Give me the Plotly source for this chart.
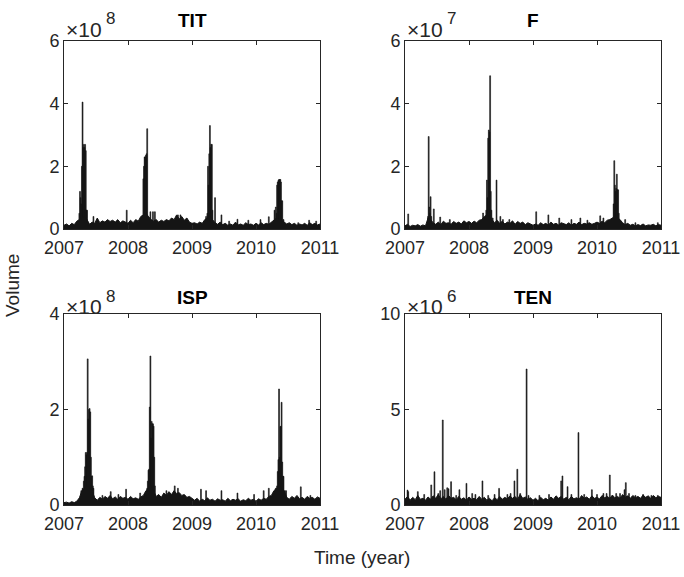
import numpy as np
import plotly.graph_objects as go

# ---------------- data (values in units of the panel exponent) ----------------
# Regular sampling of the slowly varying "background" volume (every 0.04 year)
tit_base = [.12, .16, .10, .18, .14, .25, .30, .35, .40, .30,
            .15, .22, .18, .35, .20, .26, .22, .30, .24, .28,
            .22, .30, .20, .26, .22, .18, .28, .20, .30, .25,
            .40, .45, .50, .40, .30, .25, .30, .22, .28, .24,
            .30, .26, .35, .30, .45, .32, .40, .28, .35, .22,
            .18, .20, .16, .22, .18, .30, .35, .40, .30, .20,
            .15, .22, .14, .18, .12, .16, .12, .22, .13, .16,
            .12, .20, .14, .16, .12, .18, .13, .20, .14, .18,
            .15, .22, .30, .35, .30, .28, .22, .16, .20, .14,
            .18, .12, .16, .13, .18, .12, .20, .14, .18, .13, .16]
tit_spike_t = [2007.24, 2007.25, 2007.26, 2007.27, 2007.28, 2007.29, 2007.30, 2007.31,
               2007.32, 2007.33, 2007.34, 2007.35, 2007.36, 2007.46, 2007.98,
               2008.23, 2008.24, 2008.25, 2008.26, 2008.27, 2008.28, 2008.29, 2008.30,
               2008.31, 2008.35, 2008.39, 2008.42, 2008.78, 2008.82,
               2009.22, 2009.24, 2009.25, 2009.26, 2009.27, 2009.28, 2009.29, 2009.30,
               2009.31, 2009.32, 2009.36, 2009.46, 2009.58, 2009.71, 2009.88,
               2010.07, 2010.20, 2010.29, 2010.31, 2010.32, 2010.33, 2010.34, 2010.35,
               2010.36, 2010.37, 2010.38, 2010.39, 2010.40, 2010.41, 2010.43, 2010.66,
               2010.83, 2010.94]
tit_spike_v = [0.5, 1.2, 1.0, 0.8, 2.0, 4.05, 2.6, 2.7,
               2.6, 2.7, 2.5, 0.6, 0.6, 0.4, 0.6,
               0.4, 1.6, 2.0, 2.3, 2.3, 2.35, 2.4, 3.2,
               0.4, 0.55, 0.55, 0.55, 0.45, 0.45,
               0.4, 0.5, 2.0, 1.4, 2.4, 3.3, 2.6, 2.7,
               2.7, 0.6, 1.0, 0.45, 0.25, 0.31, 0.28,
               0.3, 0.39, 0.6, 0.7, 0.5, 1.4, 1.5, 1.55,
               1.58, 1.58, 1.58, 1.5, 0.9, 0.9, 0.3, 0.2,
               0.28, 0.25]

f_base = [.10, .15, .08, .12, .10, .14, .09, .13, .10, .35,
          .30, .20, .15, .22, .14, .25, .18, .20, .15, .24,
          .18, .22, .16, .26, .20, .24, .18, .25, .20, .28,
          .30, .40, .45, .40, .30, .20, .28, .18, .25, .16,
          .22, .18, .26, .15, .24, .18, .22, .14, .20, .16,
          .12, .16, .12, .20, .14, .18, .12, .22, .15, .18,
          .13, .20, .16, .14, .20, .12, .18, .15, .22, .14,
          .18, .16, .20, .15, .18, .22, .18, .25, .20, .28,
          .30, .35, .40, .35, .30, .20, .14, .18, .12, .15,
          .10, .14, .11, .16, .10, .13, .12, .15, .10, .14, .12]
f_spike_t = [2007.05, 2007.36, 2007.37, 2007.38, 2007.39, 2007.40, 2007.41, 2007.45,
             2007.55, 2007.70, 2008.22, 2008.27, 2008.28, 2008.29, 2008.30, 2008.31,
             2008.32, 2008.33, 2008.34, 2008.35, 2008.37, 2008.43, 2008.49, 2008.53,
             2008.63, 2009.05, 2009.24, 2009.41, 2009.60, 2009.74, 2009.85, 2010.05,
             2010.10, 2010.24, 2010.26, 2010.27, 2010.28, 2010.29, 2010.30, 2010.31,
             2010.32, 2010.33, 2010.34, 2010.44, 2010.60, 2010.95]
f_spike_v = [0.48, 0.4, 2.95, 0.7, 0.5, 1.03, 0.4, 0.64,
             0.38, 0.3, 0.51, 0.6, 1.56, 1.0, 2.9, 3.16,
             3.1, 4.89, 1.2, 0.6, 0.35, 1.56, 0.4, 0.3,
             0.3, 0.55, 0.45, 0.35, 0.3, 0.35, 0.28, 0.42,
             0.35, 0.3, 0.8, 2.18, 1.4, 1.2, 1.3, 1.75,
             1.25, 1.25, 0.5, 0.3, 0.2, 0.2]

isp_base = [.05, .06, .04, .07, .05, .08, .15, .30, .35, .40,
            .35, .30, .15, .10, .16, .12, .18, .14, .20, .13,
            .17, .12, .18, .14, .16, .12, .18, .13, .15, .12,
            .17, .20, .30, .35, .40, .30, .18, .22, .16, .25,
            .20, .28, .22, .30, .24, .26, .20, .22, .16, .18,
            .14, .10, .14, .08, .12, .09, .15, .10, .12, .08,
            .13, .10, .11, .08, .14, .09, .12, .10, .13, .08,
            .11, .09, .14, .10, .12, .08, .13, .10, .14, .12,
            .18, .20, .30, .35, .40, .35, .30, .16, .12, .18,
            .14, .20, .13, .16, .12, .18, .14, .16, .12, .17, .14]
isp_spike_t = [2007.27, 2007.29, 2007.31, 2007.32, 2007.33, 2007.34, 2007.35, 2007.36,
               2007.37, 2007.38, 2007.39, 2007.40, 2007.41, 2007.42, 2007.43, 2007.44,
               2007.45, 2007.46, 2007.60, 2007.73, 2007.85, 2007.97, 2008.19,
               2008.30, 2008.31, 2008.32, 2008.33, 2008.34, 2008.35, 2008.36, 2008.37,
               2008.38, 2008.39, 2008.40, 2008.41, 2008.42, 2008.60, 2008.73, 2008.78,
               2009.14, 2009.22, 2009.46, 2009.71, 2009.97, 2010.12, 2010.20,
               2010.31, 2010.33, 2010.34, 2010.35, 2010.36, 2010.37, 2010.38, 2010.39,
               2010.40, 2010.41, 2010.42, 2010.43, 2010.45, 2010.47, 2010.70, 2010.85]
isp_spike_v = [0.3, 0.35, 0.5, 0.6, 0.8, 1.1, 1.05, 1.1,
               3.06, 1.8, 2.0, 2.02, 1.95, 1.0, 0.6, 0.61,
               0.4, 0.35, 0.2, 0.28, 0.22, 0.33, 0.25,
               0.35, 0.5, 0.73, 0.75, 2.05, 3.12, 1.4, 1.75,
               1.7, 1.7, 1.65, 1.0, 0.4, 0.3, 0.4, 0.35,
               0.33, 0.3, 0.3, 0.25, 0.22, 0.3, 0.35,
               0.35, 0.4, 0.7, 0.95, 2.43, 1.0, 1.64, 1.65,
               2.15, 0.9, 0.6, 0.6, 0.3, 0.3, 0.38, 0.2]

ten_base = [.30, .45, .25, .40, .28, .50, .30, .35, .25, .42,
            .30, .48, .35, .55, .32, .45, .30, .50, .35, .40,
            .28, .45, .30, .38, .25, .42, .30, .35, .28, .45,
            .30, .40, .25, .35, .22, .38, .28, .45, .30, .40,
            .32, .48, .35, .45, .30, .55, .35, .42, .30, .38,
            .25, .35, .22, .40, .28, .35, .25, .42, .30, .48,
            .35, .45, .30, .40, .28, .45, .32, .38, .30, .50,
            .35, .42, .30, .48, .35, .40, .32, .50, .38, .45,
            .35, .52, .38, .45, .35, .55, .40, .48, .35, .50,
            .38, .45, .35, .52, .40, .48, .35, .50, .38, .45, .40]
ten_spike_t = [2007.04, 2007.05, 2007.20, 2007.30, 2007.41, 2007.46, 2007.52, 2007.55,
               2007.59, 2007.62, 2007.66, 2007.68, 2007.72, 2007.80, 2007.85, 2007.96,
               2008.05, 2008.10, 2008.21, 2008.30, 2008.40, 2008.47, 2008.60, 2008.65,
               2008.71, 2008.755, 2008.80, 2008.90, 2008.93, 2009.10, 2009.25, 2009.44,
               2009.46, 2009.54, 2009.60, 2009.71, 2009.80, 2009.92, 2010.00, 2010.10,
               2010.15, 2010.20, 2010.30, 2010.36, 2010.43, 2010.45, 2010.50, 2010.60,
               2010.72, 2010.85, 2010.95]
ten_spike_v = [0.78, 0.7, 0.7, 0.55, 1.05, 1.74, 0.6, 0.75,
               4.45, 0.8, 0.9, 0.85, 1.22, 0.5, 0.8, 1.13,
               0.6, 0.55, 1.26, 0.5, 0.55, 0.87, 0.55, 0.6,
               1.26, 1.87, 0.6, 7.12, 0.5, 0.5, 0.55, 1.26,
               1.52, 0.96, 0.55, 3.79, 0.55, 0.8, 0.55, 0.6,
               0.6, 1.57, 0.6, 0.6, 0.8, 1.17, 0.6, 0.5,
               0.55, 0.5, 0.5]

titles = ["TIT", "F", "ISP", "TEN"]
exponents = ["8", "7", "8", "6"]
y_max = [6, 6, 4, 10]
y_ticks = [[0, 2, 4, 6], [0, 2, 4, 6], [0, 2, 4], [0, 5, 10]]
year_ticks = [2007, 2008, 2009, 2010, 2011]

bases = [tit_base, f_base, isp_base, ten_base]
spike_ts = [tit_spike_t, f_spike_t, isp_spike_t, ten_spike_t]
spike_vs = [tit_spike_v, f_spike_v, isp_spike_v, ten_spike_v]
for b in bases:
    assert len(b) == 101, len(b)
times = np.round(2007 + 0.04 * np.arange(101), 2)

# ---------------- layout geometry ----------------
W, H = 684, 577
# (left, right, top, bottom) in px
boxes = [(64, 320, 41, 229), (405, 661, 41, 229), (64, 320, 314, 505), (405, 661, 314, 505)]
# vertical offsets above the box top for: title, "x10", exponent digit
row_off = [(21, 12, 22), (21, 12, 22), (17, 8, 18), (17, 8, 18)]

FONT = "Liberation Sans, Arial, Helvetica, sans-serif"
INK = "#262626"
DATA = "#151515"

fig = go.Figure()
layout = dict(template="none", width=W, height=H, margin=dict(l=0, r=0, t=0, b=0, pad=0),
              paper_bgcolor="white", plot_bgcolor="white", showlegend=False,
              barmode="overlay", font=dict(family=FONT, color=INK, size=18))
annotations = []


def px_x(p):
    return p / W


def px_y(p):
    return 1 - p / H


for i in range(4):
    sfx = "" if i == 0 else str(i + 1)
    xa, ya = "x" + sfx, "y" + sfx
    l, r, t, b = boxes[i]
    fig.add_trace(go.Scatter(x=times, y=bases[i], xaxis=xa, yaxis=ya, mode="lines",
                             line=dict(color=DATA, width=1), fill="tozeroy",
                             fillcolor=DATA, hoverinfo="skip"))
    fig.add_trace(go.Bar(x=spike_ts[i], y=spike_vs[i], xaxis=xa, yaxis=ya,
                         width=0.014, marker=dict(color=DATA, line=dict(color=DATA, width=0.6))))
    axis_common = dict(showgrid=False, zeroline=False, showline=True, linecolor=INK,
                       linewidth=1, mirror="ticks", ticks="inside", ticklen=4,
                       tickcolor=INK, automargin=False,
                       tickfont=dict(family=FONT, size=18, color=INK))
    layout["xaxis" + sfx] = dict(axis_common, domain=[px_x(l), px_x(r)], anchor=ya,
                                 range=[2007, 2011], tickvals=year_ticks,
                                 ticktext=[str(v) for v in year_ticks],
                                 ticklabelstandoff=2)
    layout["yaxis" + sfx] = dict(axis_common, domain=[px_y(b), px_y(t)], anchor=xa,
                                 range=[0, y_max[i]], tickvals=y_ticks[i],
                                 ticktext=[str(v) for v in y_ticks[i]])
    to, xo, eo = row_off[i]
    annotations.append(dict(text="<b>" + titles[i] + "</b>", xref="paper", yref="paper",
                            x=px_x((l + r) / 2), y=px_y(t - to), xanchor="center", yanchor="middle",
                            showarrow=False, font=dict(family=FONT, size=19, color="black")))
    annotations.append(dict(text="×10", xref="paper", yref="paper",
                            x=px_x(l + 1), y=px_y(t - xo), xanchor="left", yanchor="middle",
                            showarrow=False, borderpad=0,
                            font=dict(family=FONT, size=21, color=INK)))
    annotations.append(dict(text=exponents[i], xref="paper", yref="paper",
                            x=px_x(l + 41), y=px_y(t - eo), xanchor="left", yanchor="middle",
                            showarrow=False, borderpad=0,
                            font=dict(family=FONT, size=17, color=INK)))

annotations.append(dict(text="Volume", xref="paper", yref="paper", x=px_x(12), y=px_y(286),
                        textangle=-90, xanchor="center", yanchor="middle", showarrow=False,
                        font=dict(family=FONT, size=19, color=INK)))
annotations.append(dict(text="Time (year)", xref="paper", yref="paper", x=px_x(362), y=px_y(557),
                        xanchor="center", yanchor="middle", showarrow=False,
                        font=dict(family=FONT, size=19, color=INK)))
layout["annotations"] = annotations
fig.update_layout(**layout)
fig.write_html("out.html")
